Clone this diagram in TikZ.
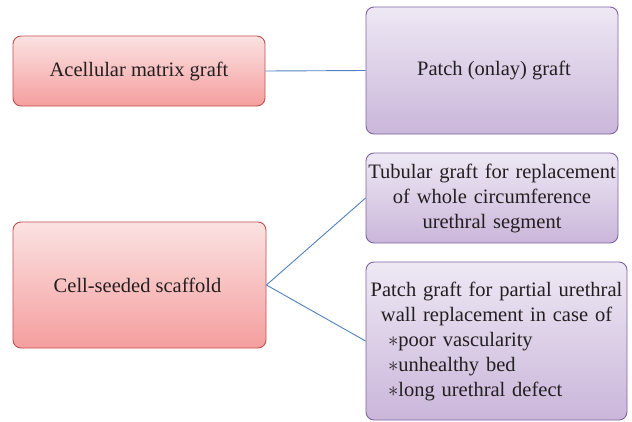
\documentclass[tikz,border=0pt]{standalone}
\usepackage{fontspec}
\setmainfont{Liberation Serif}
\begin{document}
\begin{tikzpicture}[x=1pt,y=-1pt,
  redbox/.style={draw={rgb,255:red,192;green,80;blue,77}, line width=0.9pt, rounded corners=8pt,
    top color={rgb,255:red,251;green,226;blue,226}, bottom color={rgb,255:red,245;green,158;blue,158},
    inner sep=0pt, align=center, text={rgb,255:red,35;green,31;blue,32}},
  purplebox/.style={draw={rgb,255:red,128;green,100;blue,162}, line width=0.9pt, rounded corners=8pt,
    top color={rgb,255:red,238;green,232;blue,244}, bottom color={rgb,255:red,202;green,182;blue,218},
    inner sep=0pt, align=center, text={rgb,255:red,35;green,31;blue,32}},
  link/.style={draw={rgb,255:red,79;green,129;blue,189}, line width=0.9pt},
  txt/.style={font=\fontsize{20.5}{25}\selectfont}
]
\useasboundingbox (0,0) rectangle (632,421);
\node[redbox, txt, minimum width=252pt, minimum height=70pt] (acm) at (139,71) {Acellular matrix graft};
\node[purplebox, txt, minimum width=252pt, minimum height=127pt] (patch) at (492,70.5) {\hspace*{4pt}Patch (onlay) graft};
\node[redbox, txt, minimum width=253pt, minimum height=126pt] (cell) at (139.5,285) {\hspace*{-4pt}Cell-seeded scaffold};
\node[purplebox, txt, minimum width=252pt, minimum height=90pt, text width=251pt] (tub) at (492,198) {Tubular graft for replacement\\of whole circumference\\urethral segment};
\node[purplebox, txt, minimum width=261pt, minimum height=158pt, text width=260pt] (pg) at (496.5,341)
  {Patch graft for partial urethral\\wall replacement in case of\\
   \makebox[217pt][l]{$\ast$poor vascularity}\\
   \makebox[217pt][l]{$\ast$unhealthy bed}\\
   \makebox[217pt][l]{$\ast$long urethral defect}};
\draw[link] (acm.east) -- (patch.west);
\draw[link] (cell.east) -- (tub.west);
\draw[link] (cell.east) -- (pg.west);
\end{tikzpicture}
\end{document}
